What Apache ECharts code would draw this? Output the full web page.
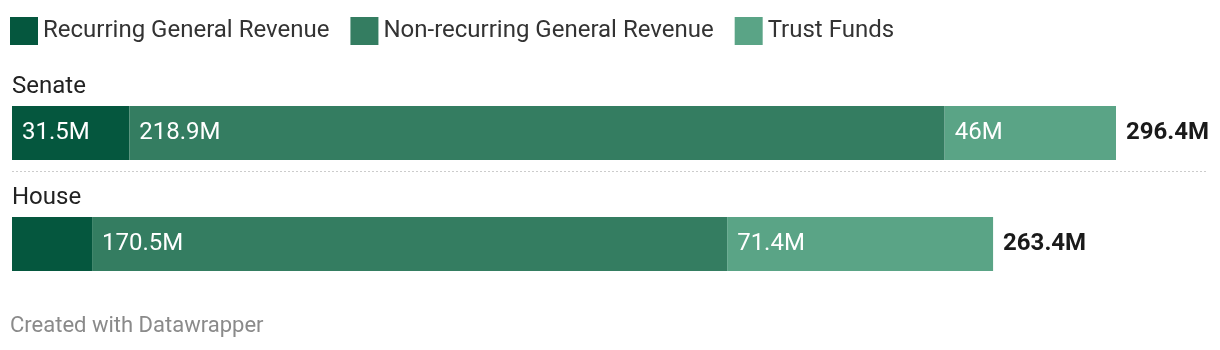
<!DOCTYPE html>
<html>
<head>
<meta charset="utf-8">
<script src="https://cdn.jsdelivr.net/npm/echarts@6/dist/echarts.min.js"></script>
<style>
html,body{margin:0;padding:0;background:#fff;}
#chart{width:1220px;height:350px;}
</style>
</head>
<body>
<div id="chart"></div>
<script>
const categories = ['Senate', 'House'];
const seriesNames = ['Recurring General Revenue', 'Non-recurring General Revenue', 'Trust Funds'];
const recurring = [31.5, 21.5];
const nonRecurring = [218.9, 170.5];
const trustFunds = [46, 71.4];
const colors = ['#05573e', '#347d61', '#5aa486'];

const FONT = 'Roboto';
const chart = echarts.init(document.getElementById('chart'), null, {renderer: 'canvas'});
const values = [recurring, nonRecurring, trustFunds];
const totals = categories.map((c, i) => Math.round((recurring[i] + nonRecurring[i] + trustFunds[i]) * 10) / 10);

const barSeries = seriesNames.map((name, s) => ({
  name: name,
  type: 'bar',
  stack: 'total',
  barWidth: 54,
  itemStyle: {color: colors[s]},
  label: {
    show: true,
    position: 'insideLeft',
    distance: 10,
    color: '#fff',
    fontFamily: FONT,
    fontSize: 24,
    formatter: p => p.value + 'M'
  },
  data: values[s].map(v => v < 25 ? {value: v, label: {show: false}} : v)
}));

chart.setOption({
  animation: false,
  textStyle: {fontFamily: FONT},
  legend: {
    left: 10, top: 17, padding: 0,
    itemWidth: 28, itemHeight: 28, itemGap: 21,
    icon: 'rect',
    textStyle: {fontFamily: FONT, fontSize: 24, color: '#333', lineHeight: 28},
    data: seriesNames
  },
  grid: {left: 12, right: 104, top: 77.5, height: 222, containLabel: false},
  xAxis: {
    type: 'value', min: 0, max: 296.4, show: false
  },
  yAxis: {
    type: 'category', data: categories, inverse: true,
    axisLine: {show: false}, axisTick: {show: false}, splitLine: {show: false},
    axisLabel: {show: false}
  },
  series: barSeries.concat([{
    type: 'scatter',
    symbolSize: 0,
    silent: true,
    itemStyle: {opacity: 1},
    label: {
      show: true, position: 'right', distance: 10,
      fontFamily: FONT, fontSize: 24, fontWeight: 'bold', color: '#1a1a1a',
      formatter: p => p.value[0] + 'M'
    },
    data: categories.map((c, i) => [totals[i], c])
  }, {
    type: 'scatter',
    symbolSize: 0,
    silent: true,
    itemStyle: {opacity: 1},
    label: {
      show: true, position: [0, -46], align: 'left', verticalAlign: 'middle',
      fontFamily: FONT, fontSize: 24, color: '#222',
      formatter: p => p.value[1]
    },
    data: categories.map(c => [0, c])
  }]),
  graphic: [
    {type: 'line', shape: {x1: 12, y1: 171.5, x2: 1208, y2: 171.5},
     style: {stroke: '#cccccc', lineWidth: 1, lineDash: [2, 2]}},
    {type: 'text', left: 10, top: 315,
     style: {text: 'Created with Datawrapper', font: '22px Roboto', fill: '#8a8a8a'}}
  ]
});
</script>
</body>
</html>
